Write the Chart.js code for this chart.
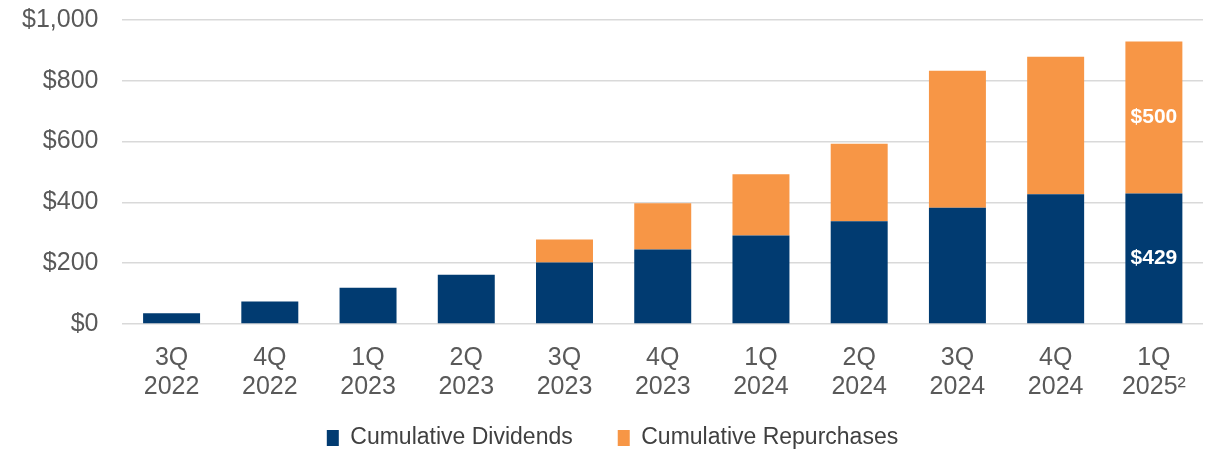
<!DOCTYPE html>
<html>
<head>
<meta charset="utf-8">
<script src="https://cdn.jsdelivr.net/npm/chart.js@4.4.1/dist/chart.umd.min.js"></script>
<style>
html,body{margin:0;padding:0;background:#fff;}
#wrap{width:1230px;height:450px;position:relative;}
</style>
</head>
<body>
<div id="wrap"><canvas id="c"></canvas></div>
<script>
const categories = [['3Q','2022'],['4Q','2022'],['1Q','2023'],['2Q','2023'],['3Q','2023'],['4Q','2023'],['1Q','2024'],['2Q','2024'],['3Q','2024'],['4Q','2024'],['1Q','2025\u00B2']];
const dividends = [35, 74, 119, 162, 202, 245, 291, 338, 382, 427, 429];
const repurchases = [0, 0, 0, 0, 76, 152, 202, 255, 451, 452, 500];
const yTicks = [0, 200, 400, 600, 800, 1000];
const labelledIndex = 10;

const FONT = "'Liberation Sans', Arial, sans-serif";
const LEGEND_PAD = 45;
const LEGEND_FONT = 23;
const LEGEND_CENTER_Y = 438;

const barLabels = {
  id: 'barLabels',
  afterDatasetsDraw(chart) {
    const ctx = chart.ctx;
    ctx.save();
    ctx.font = "bold 21px " + FONT;
    ctx.fillStyle = '#ffffff';
    ctx.textAlign = 'center';
    ctx.textBaseline = 'middle';
    chart.data.datasets.forEach((ds, di) => {
      const meta = chart.getDatasetMeta(di);
      const el = meta.data[labelledIndex];
      if (!el) return;
      const v = ds.data[labelledIndex];
      const yc = (el.y + el.base) / 2;
      ctx.fillText('$' + v, el.x, yc);
    });
    ctx.restore();
  }
};

// keep a wide gap between legend items without a tall legend box
const legendFit = {
  id: 'legendFit',
  afterInit(chart) {
    const lg = chart.legend;
    if (!lg) return;
    const orig = lg.fit;
    lg.fit = function () { orig.call(this); this.height = 50; };
  },
  afterLayout(chart) {
    const lg = chart.legend;
    if (!lg) return;
    lg.top = LEGEND_CENTER_Y - LEGEND_FONT / 2 - LEGEND_PAD;
    lg.bottom = chart.height;
    lg.height = lg.bottom - lg.top;
  }
};

new Chart(document.getElementById('c'), {
  type: 'bar',
  data: {
    labels: categories,
    datasets: [
      { label: 'Cumulative Dividends', data: dividends, backgroundColor: '#013B71', borderWidth: 0 },
      { label: 'Cumulative Repurchases', data: repurchases, backgroundColor: '#F79646', borderWidth: 0 }
    ]
  },
  options: {
    responsive: true,
    maintainAspectRatio: false,
    animation: false,
    layout: { padding: { top: 20, right: 27, left: 22, bottom: 0 } },
    datasets: { bar: { categoryPercentage: 1.0, barPercentage: 0.58 } },
    scales: {
      x: {
        stacked: true,
        grid: { display: false, drawTicks: false },
        border: { display: false },
        ticks: { color: '#595959', font: { family: FONT, size: 25, lineHeight: 1.16 }, padding: 20, maxRotation: 0, autoSkip: false },
        afterFit(axis) { axis.height = 76; }
      },
      y: {
        stacked: true,
        min: 0, max: 1000,
        afterBuildTicks(axis) { axis.ticks = yTicks.map(v => ({ value: v })); },
        grid: { color: '#D9D9D9', lineWidth: 1.5, drawTicks: true, tickLength: 24, tickColor: 'rgba(0,0,0,0)' },
        border: { display: false },
        ticks: {
          color: '#595959', font: { family: FONT, size: 25 }, padding: 0,
          callback: v => '$' + Number(v).toLocaleString('en-US')
        }
      }
    },
    plugins: {
      legend: {
        position: 'bottom',
        labels: {
          color: '#404040', font: { family: FONT, size: LEGEND_FONT },
          boxWidth: 12, boxHeight: 16, padding: LEGEND_PAD
        }
      },
      tooltip: { enabled: false }
    }
  },
  plugins: [barLabels, legendFit]
});
</script>
</body>
</html>
